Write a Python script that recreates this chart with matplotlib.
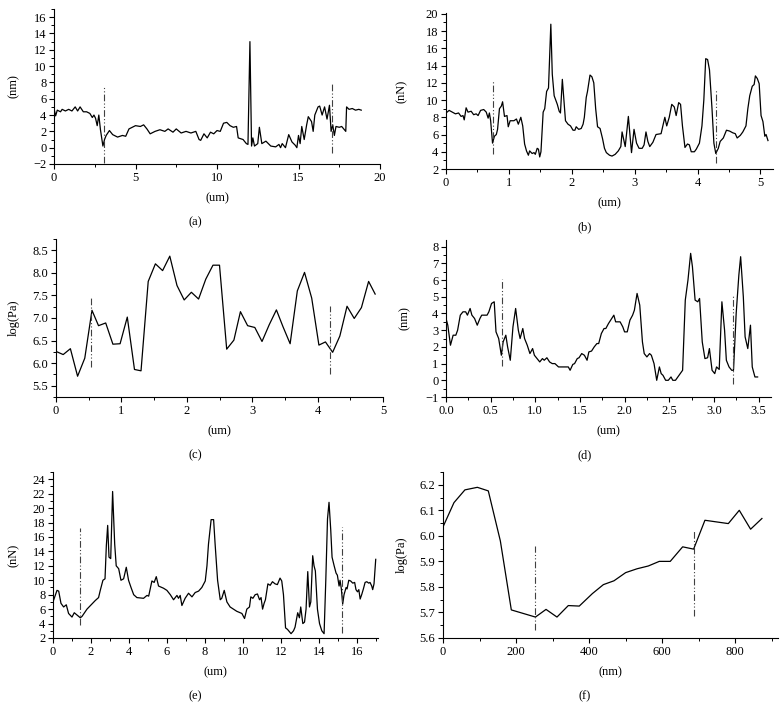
import matplotlib
matplotlib.use('Agg')
import matplotlib.pyplot as plt
from matplotlib.ticker import MultipleLocator, FormatStrFormatter

plt.rcParams['font.family'] = ['Liberation Serif', 'DejaVu Serif']
plt.rcParams['font.size'] = 9

# (a) height profile
a_x = [0.0, 0.1, 0.2, 0.4, 0.5, 0.7, 0.9, 1.1, 1.3, 1.45, 1.6, 1.8, 2.0, 2.2, 2.35, 2.45,
       2.55, 2.65, 2.75, 2.85, 3.0, 3.1, 3.2, 3.4, 3.6, 3.9, 4.2, 4.4, 4.6, 4.8, 5.0, 5.3,
       5.5, 5.7, 5.9, 6.2, 6.5, 6.8, 7.0, 7.3, 7.5, 7.8, 8.1, 8.4, 8.7, 8.9, 9.0, 9.2, 9.4,
       9.6, 9.8, 10.0, 10.2, 10.4, 10.6, 10.8, 11.0, 11.2, 11.3, 11.6, 11.8, 11.9, 12.02,
       12.12, 12.2, 12.3, 12.5, 12.6, 12.75, 13.0, 13.3, 13.6, 13.8, 13.9, 14.0, 14.2, 14.4,
       14.6, 14.8, 14.9, 15.0, 15.1, 15.2, 15.35, 15.5, 15.6, 15.8, 15.9, 16.0, 16.2, 16.3,
       16.45, 16.6, 16.75, 16.9, 17.0, 17.1, 17.2, 17.3, 17.5, 17.65, 17.9, 17.95, 18.1,
       18.3, 18.5, 18.7, 18.85]
a_y = [4.8, 3.9, 4.6, 4.4, 4.7, 4.5, 4.7, 4.5, 5.0, 4.5, 5.0, 4.4, 4.4, 4.2, 3.7, 4.0,
       3.6, 2.7, 4.0, 2.2, 0.2, 1.0, 1.5, 2.1, 1.6, 1.3, 1.5, 1.4, 2.3, 2.5, 2.7, 2.6,
       2.8, 2.3, 1.7, 2.0, 2.2, 2.0, 2.3, 1.9, 2.3, 1.8, 2.0, 1.8, 2.0, 1.0, 0.9, 1.7, 1.2,
       1.9, 1.7, 2.1, 2.0, 3.0, 3.1, 2.7, 2.5, 2.6, 1.2, 1.0, 0.5, 0.4, 13.0,
       0.2, 1.2, 0.2, 0.5, 2.5, 0.5, 0.8, 0.2, 0.1, 0.4, 0.0, 0.5, 0.0, 1.6,
       0.7, 0.3, 0.0, 1.5, 0.5, 2.6, 1.0, 2.8, 3.8, 3.2, 2.0, 4.0, 5.0, 5.1,
       4.0, 5.0, 3.5, 5.2, 2.0, 2.8, 1.5, 2.6, 2.5, 2.6, 2.0, 5.0, 4.7,
       4.8, 4.6, 4.7, 4.6]

# (b) force profile
b_x = [0.0, 0.05, 0.1, 0.15, 0.2, 0.24, 0.27, 0.29, 0.32, 0.35, 0.4, 0.44, 0.48, 0.51, 0.55,
       0.6, 0.64, 0.67, 0.69, 0.71, 0.74, 0.77, 0.8, 0.82, 0.85, 0.88, 0.9, 0.93, 0.97, 0.99,
       1.02, 1.08, 1.12, 1.15, 1.19, 1.22, 1.25, 1.28, 1.31, 1.33, 1.37, 1.4, 1.42, 1.45,
       1.47, 1.49, 1.51, 1.545, 1.57, 1.6, 1.63, 1.667, 1.69, 1.72, 1.77, 1.8, 1.82, 1.85,
       1.87, 1.9, 1.94, 1.98, 2.02, 2.05, 2.07, 2.11, 2.15, 2.18, 2.2, 2.23, 2.25, 2.29,
       2.32, 2.35, 2.38, 2.41, 2.45, 2.49, 2.52, 2.55, 2.6, 2.64, 2.69, 2.74, 2.78, 2.8,
       2.85, 2.9, 2.95, 2.99, 3.03, 3.07, 3.12, 3.15, 3.18, 3.21, 3.24, 3.29, 3.34, 3.42,
       3.48, 3.51, 3.55, 3.59, 3.63, 3.66, 3.7, 3.73, 3.76, 3.8, 3.84, 3.87, 3.9, 3.95,
       3.98, 4.03, 4.07, 4.1, 4.13, 4.16, 4.19, 4.23, 4.26, 4.29, 4.33, 4.36, 4.41, 4.46,
       4.51, 4.56, 4.6, 4.63, 4.68, 4.72, 4.77, 4.8, 4.83, 4.87, 4.9, 4.92, 4.95, 4.98,
       5.01, 5.04, 5.07, 5.09, 5.12]
b_y = [8.5, 8.8, 8.6, 8.4, 8.5, 8.1, 8.2, 7.7, 9.1, 8.6, 8.7, 8.3, 8.4, 8.2, 8.8,
       8.9, 8.6, 7.9, 8.5, 7.6, 5.0, 5.8, 6.0, 6.6, 9.0, 9.3, 9.8, 8.1, 8.2, 6.9,
       7.6, 7.6, 7.8, 7.2, 8.0, 7.0, 4.9, 4.1, 3.6, 4.1, 3.8, 3.9, 3.7, 4.4,
       4.3, 3.4, 4.0, 8.6, 9.0, 11.0, 11.4, 18.8, 13.0, 10.5, 9.5, 8.7, 8.5, 12.4,
       10.5, 7.6, 7.2, 7.0, 6.5, 6.5, 6.9, 6.6, 6.7, 7.2, 8.0, 10.3, 11.0, 12.9,
       12.7, 12.0, 9.0, 6.9, 6.7, 5.5, 4.4, 3.9, 3.6, 3.5, 3.7, 4.1, 4.6, 6.3,
       4.6, 8.1, 3.9, 6.6, 5.0, 4.4, 4.4, 4.8, 6.3, 5.2, 4.6, 5.1, 6.0, 6.1,
       8.0, 7.0, 8.0, 9.5, 9.2, 8.2, 9.7, 9.5, 7.0, 4.5, 4.9, 4.8, 4.0, 4.0,
       4.3, 5.0, 7.0, 10.0, 14.8, 14.7, 13.5, 9.0, 5.0, 3.8, 4.4, 5.2, 5.6, 6.5,
       6.4, 6.2, 6.1, 5.6, 5.9, 6.3, 7.0, 9.0, 10.5, 11.6, 11.8, 12.8, 12.5, 11.9,
       8.2, 7.5, 5.8, 6.0, 5.3]

# (c) modulus profile
c_x = [0.0, 0.11, 0.22, 0.33, 0.44, 0.55, 0.65, 0.76, 0.87, 0.98, 1.09, 1.2, 1.3, 1.41,
       1.52, 1.63, 1.74, 1.85, 1.96, 2.07, 2.18, 2.29, 2.4, 2.5, 2.61, 2.72, 2.82, 2.93,
       3.04, 3.15, 3.26, 3.37, 3.47, 3.58, 3.69, 3.8, 3.91, 4.02, 4.12, 4.23, 4.34, 4.45,
       4.56, 4.67, 4.78, 4.88]
c_y = [6.26, 6.19, 6.32, 5.71, 6.11, 7.17, 6.83, 6.89, 6.42, 6.43, 7.02, 5.86, 5.83, 7.81,
       8.2, 8.05, 8.37, 7.72, 7.4, 7.57, 7.42, 7.86, 8.17, 8.17, 6.31, 6.51, 7.14, 6.83,
       6.79, 6.48, 6.85, 7.18, 6.81, 6.43, 7.6, 8.01, 7.44, 6.4, 6.47, 6.24, 6.6, 7.26,
       6.99, 7.23, 7.81, 7.53]

# (d) height profile
d_x = [0.0, 0.02, 0.05, 0.08, 0.11, 0.13, 0.16, 0.19, 0.22, 0.24, 0.27, 0.29, 0.32, 0.35,
       0.38, 0.4, 0.43, 0.46, 0.48, 0.51, 0.54, 0.56, 0.59, 0.62, 0.64, 0.67, 0.69, 0.72,
       0.75, 0.78, 0.81, 0.83, 0.86, 0.88, 0.91, 0.94, 0.97, 0.99, 1.02, 1.05, 1.08, 1.1,
       1.13, 1.16, 1.19, 1.22, 1.26, 1.32, 1.37, 1.39, 1.42, 1.44, 1.47, 1.49, 1.52, 1.55,
       1.58, 1.6, 1.63, 1.66, 1.69, 1.71, 1.74, 1.77, 1.79, 1.82, 1.88, 1.9, 1.95, 1.98,
       2.0, 2.03, 2.06, 2.09, 2.11, 2.14, 2.17, 2.2, 2.22, 2.25, 2.28, 2.3, 2.33, 2.36,
       2.39, 2.41, 2.43, 2.46, 2.49, 2.52, 2.54, 2.57, 2.59, 2.63, 2.65, 2.68, 2.71, 2.74,
       2.76, 2.79, 2.82, 2.84, 2.87, 2.9, 2.93, 2.95, 2.98, 3.01, 3.03, 3.06, 3.09, 3.12,
       3.14, 3.17, 3.2, 3.22, 3.25, 3.28, 3.3, 3.33, 3.35, 3.38, 3.41, 3.43, 3.46, 3.49]
d_y = [3.7, 3.3, 2.1, 2.7, 2.7, 3.0, 3.9, 4.1, 4.1, 3.9, 4.3, 3.9, 3.7, 3.3,
       3.7, 3.9, 3.9, 3.9, 4.1, 4.6, 4.7, 2.9, 2.5, 1.5, 2.3, 2.7, 2.0, 1.2,
       3.2, 4.3, 3.0, 2.5, 3.1, 2.5, 2.1, 1.6, 1.9, 1.5, 1.3, 1.1, 1.3, 1.2,
       1.35, 1.1, 1.0, 1.0, 0.8, 0.8, 0.8, 0.6, 0.95, 1.0, 1.3, 1.35, 1.6, 1.5,
       1.2, 1.7, 1.75, 2.0, 2.2, 2.2, 2.8, 3.1, 3.1, 3.4, 3.9, 3.5, 3.5, 3.2,
       2.9, 2.9, 3.6, 3.9, 4.2, 5.2, 4.5, 2.3, 1.6, 1.4, 1.6, 1.5, 1.0, 0.0,
       0.8, 0.4, 0.3, 0.0, 0.0, 0.2, 0.0, 0.0, 0.15, 0.45, 0.6, 4.8, 6.0, 7.6,
       6.8, 4.8, 4.7, 4.9, 2.3, 1.3, 1.35, 1.9, 0.6, 0.4, 0.8, 0.65, 4.7, 3.0,
       1.2, 0.8, 0.6, 0.6, 4.0, 6.3, 7.4, 5.0, 2.6, 1.9, 3.3, 0.8, 0.2, 0.2]

# (e) force profile
e_x = [0.0, 0.21, 0.3, 0.42, 0.56, 0.7, 0.82, 1.0, 1.12, 1.26, 1.44, 1.53, 1.79, 2.23,
       2.4, 2.49, 2.63, 2.74, 2.81, 2.88, 2.95, 3.04, 3.14, 3.25, 3.33, 3.46, 3.58, 3.72,
       3.86, 3.98, 4.11, 4.25, 4.42, 4.77, 4.95, 5.04, 5.21, 5.33, 5.44, 5.56, 5.82, 6.0,
       6.18, 6.35, 6.53, 6.61, 6.7, 6.79, 6.96, 7.14, 7.32, 7.49, 7.67, 7.84, 8.02, 8.11,
       8.19, 8.33, 8.46, 8.54, 8.67, 8.81, 8.89, 9.02, 9.16, 9.33, 9.51, 9.68, 9.86, 9.95,
       10.09, 10.21, 10.35, 10.42, 10.53, 10.65, 10.77, 10.88, 10.96, 11.04, 11.12, 11.19,
       11.32, 11.44, 11.56, 11.7, 11.82, 11.96, 12.05, 12.14, 12.25, 12.35, 12.54, 12.67,
       12.75, 12.89, 12.98, 13.05, 13.16, 13.25, 13.33, 13.42, 13.51, 13.58, 13.68, 13.75,
       13.82, 13.93, 14.04, 14.16, 14.28, 14.37, 14.46, 14.54, 14.63, 14.7, 14.81, 14.91,
       14.98, 15.07, 15.12, 15.19, 15.26, 15.33, 15.44, 15.49, 15.58, 15.68, 15.79, 15.89,
       15.96, 16.04, 16.11, 16.18, 16.26, 16.35, 16.44, 16.53, 16.63, 16.7, 16.79, 16.84,
       16.91, 17.0]
e_y = [7.0, 8.6, 8.5, 6.8, 6.3, 6.6, 5.4, 4.9, 5.5, 5.2, 4.8, 5.0, 6.0, 7.2,
       7.6, 8.6, 10.0, 10.2, 14.8, 17.6, 13.2, 13.0, 22.3, 15.0, 12.0, 11.6, 10.0, 10.2,
       11.8, 10.0, 9.0, 8.0, 7.6, 7.5, 7.9, 7.8, 9.9, 9.7, 10.5, 9.2, 8.9, 8.6,
       8.0, 7.3, 7.9, 7.5, 7.9, 6.5, 7.5, 8.2, 7.7, 8.3, 8.5, 9.0, 9.9, 12.0,
       15.0, 18.4, 18.4, 15.0, 10.0, 7.3, 7.5, 8.6, 7.0, 6.3, 6.0, 5.7, 5.5, 5.4,
       4.7, 6.0, 6.3, 7.7, 7.5, 8.0, 8.1, 7.3, 7.6, 6.0, 6.8, 7.3,
       9.5, 9.3, 9.8, 9.5, 9.4, 10.3, 9.9, 8.0, 3.4, 3.2, 2.6, 3.0,
       3.5, 5.5, 4.8, 6.3, 4.0, 4.2, 6.0, 11.2, 6.3, 7.0, 13.4, 12.0,
       11.3, 6.0, 4.0, 3.0, 2.6, 10.0, 18.5, 20.8, 17.0, 13.2, 12.0, 11.0,
       10.7, 9.2, 10.0, 8.8, 6.7, 8.0, 9.0, 8.8, 10.0, 9.9, 9.6, 9.7,
       8.7, 8.4, 8.7, 7.4, 8.0, 8.8, 9.7, 9.8, 9.6, 9.7, 9.2, 8.7,
       9.5, 12.9]

# (f) modulus profile
f_x = [0, 30, 60, 94, 124, 157, 187, 253, 282, 312, 343, 373, 409, 439, 468, 500, 531,
       562, 592, 622, 656, 686, 717, 781, 811, 842, 873]
f_y = [6.035, 6.13, 6.18, 6.19, 6.176, 5.98, 5.71, 5.682, 5.712, 5.682, 5.727, 5.725,
       5.774, 5.809, 5.824, 5.856, 5.871, 5.882, 5.9, 5.9, 5.957, 5.948, 6.061, 6.048,
       6.1, 6.026, 6.068]

# dash-dot markers: (x, y_bottom, y_top)
a_marks = [(3.05, -1.9, 7.4), (17.07, -0.7, 7.8)]
b_marks = [(0.74, 3.7, 12.3), (4.29, 2.7, 11.3)]
c_marks = [(0.534, 5.91, 7.44), (4.19, 5.76, 7.27)]
d_marks = [(0.63, 0.84, 6.08), (3.21, -0.22, 5.1)]
e_marks = [(1.44, 3.76, 17.3), (15.23, 2.74, 17.4)]
f_marks = [(253, 5.633, 5.96), (687, 5.686, 6.018)]

W, H = 780, 722
fig = plt.figure(figsize=(W / 100, H / 100), dpi=100)


def px_axes(left, top, right, bottom):
    return fig.add_axes([left / W, 1 - bottom / H, (right - left) / W, (bottom - top) / H])


def style(ax, box, xlim, ylim, xmaj, xmin, ymaj, ymin, xlabel, ylabel, tag,
          ylab_x, tag_x, xfmt=None, yfmt=None):
    left, top, right, bottom = box
    wpx, hpx = right - left, bottom - top
    ax.set_xlim(*xlim)
    ax.set_ylim(*ylim)
    ax.xaxis.set_major_locator(MultipleLocator(xmaj))
    ax.xaxis.set_minor_locator(MultipleLocator(xmin))
    ax.yaxis.set_major_locator(MultipleLocator(ymaj))
    ax.yaxis.set_minor_locator(MultipleLocator(ymin))
    if xfmt:
        ax.xaxis.set_major_formatter(FormatStrFormatter(xfmt))
    if yfmt:
        ax.yaxis.set_major_formatter(FormatStrFormatter(yfmt))
    for s in ['top', 'right']:
        ax.spines[s].set_visible(False)
    for s in ['left', 'bottom']:
        ax.spines[s].set_linewidth(0.8)
    ax.tick_params(which='major', direction='out', length=3.5, width=0.8, labelsize=9, pad=2)
    ax.tick_params(which='minor', direction='out', length=2, width=0.7)
    ax.set_xlabel(xlabel, fontsize=9, va='center')
    ax.xaxis.set_label_coords(0.5, -34 / hpx)
    ax.set_ylabel(ylabel, fontsize=9, va='center')
    ax.yaxis.set_label_coords((ylab_x - left) / wpx, 0.5)
    fig.text(tag_x / W, 1 - (bottom + 58) / H, tag, ha='center', va='center', fontsize=9)


def draw(ax, x, y, marks):
    ax.plot(x, y, color='black', lw=0.9)
    for mx, y0, y1 in marks:
        ax.plot([mx, mx], [y0, y1], color='0.25', lw=0.8,
                linestyle=(0, (6, 2, 1, 2, 1, 2)))


box = (54, 9, 380, 164)
ax = px_axes(*box)
draw(ax, a_x, a_y, a_marks)
style(ax, box, (0, 20), (-2, 17), 5, 2.5, 2, 1, '(um)', '(nm)', '(a)', 14, 195)

box = (446, 13, 773, 169)
ax = px_axes(*box)
draw(ax, b_x, b_y, b_marks)
style(ax, box, (0, 5.2), (2, 20.1), 1, 0.5, 2, 1, '(um)', '(nN)', '(b)', 402, 585)

box = (56, 239, 383, 397)
ax = px_axes(*box)
draw(ax, c_x, c_y, c_marks)
style(ax, box, (0, 5), (5.25, 8.75), 1, 0.5, 0.5, 0.25, '(um)', 'log(Pa)', '(c)', 14, 195,
      yfmt='%.1f')

box = (446, 240, 771, 397)
ax = px_axes(*box)
draw(ax, d_x, d_y, d_marks)
style(ax, box, (0, 3.64), (-1, 8.4), 0.5, 0.25, 1, 0.5, '(um)', '(nm)', '(d)', 405, 585,
      xfmt='%.1f')

box = (53, 472, 378, 638)
ax = px_axes(*box)
draw(ax, e_x, e_y, e_marks)
style(ax, box, (0, 17.12), (2, 25), 2, 1, 2, 1, '(um)', '(nN)', '(e)', 14, 195)

box = (443, 472, 778, 638)
ax = px_axes(*box)
draw(ax, f_x, f_y, f_marks)
style(ax, box, (0, 917), (5.6, 6.25), 200, 100, 0.1, 0.05, '(nm)', 'log(Pa)', '(f)', 402, 585,
      yfmt='%.1f')

fig.savefig('out.png', dpi=100)
